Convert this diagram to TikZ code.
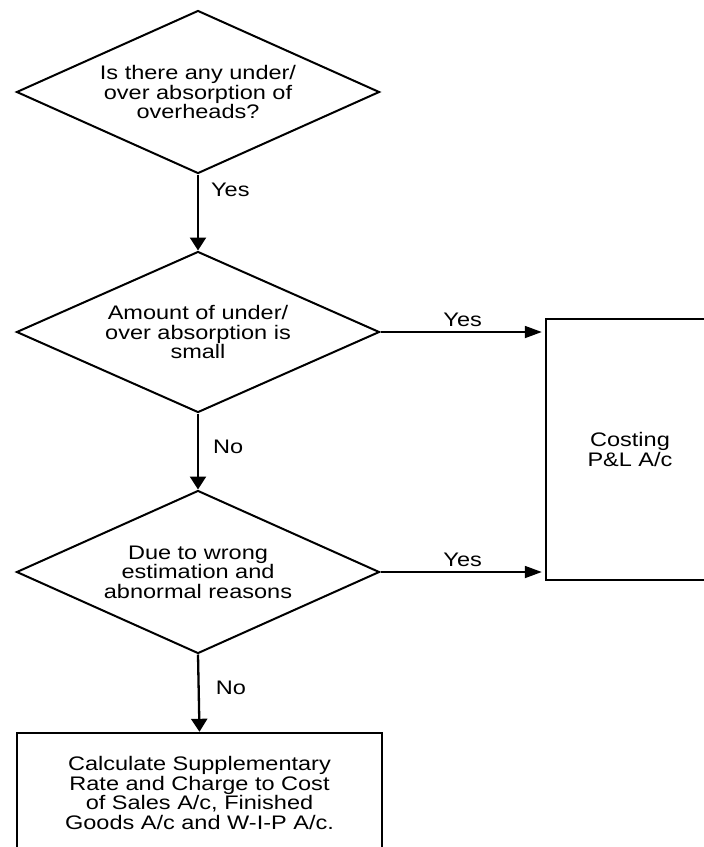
\documentclass[tikz,border=0pt]{standalone}
\usepackage{fontspec}
\setmainfont[FakeStretch=1.2]{Liberation Sans}
\usepackage{tikz}
\usetikzlibrary{arrows.meta,shapes.geometric,positioning,calc}
\tikzset{
  fcdecision/.style={
    diamond, draw=black, fill=white, line width=1pt, aspect=2.2,
    minimum width=181.5pt, minimum height=81.5pt, inner sep=0pt,
    align=center, font=\fontsize{9.8}{9.8}\selectfont
  },
  fcbox/.style={
    rectangle, draw=black, fill=white, line width=1.2pt,
    inner sep=0pt, align=center, font=\fontsize{9.8}{9.8}\selectfont
  },
  fcedge/.style={-{Triangle[length=6.5pt,width=8pt]},line width=1.15pt},
  fcedgeh/.style={-{Triangle[length=8.5pt,width=6pt]},line width=0.9pt,shorten >=1.5pt},
  fclabel/.style={font=\fontsize{9.8}{9.8}\selectfont,inner sep=1pt}
}

\begin{document}
\begin{tikzpicture}[x=0.5pt,y=-0.5pt]
  \useasboundingbox (0,0) rectangle (704,847);
  \clip (0,0) rectangle (704,847);

  % Decisions
  \node[fcdecision] (d1) at (198,92)
    {Is there any under/\\over absorption of\\overheads?};
  \node[fcdecision,minimum height=80.5pt] (d2) at (198,332)
    {Amount of under/\\over absorption is\\small};
  \node[fcdecision] (d3) at (198,572)
    {Due to wrong\\estimation and\\abnormal reasons};

  % Outcomes
  \node[fcbox,minimum width=84pt,minimum height=130.5pt] (pl) at (630,449.5)
    {Costing\\P\&L A/c};
  \node[fcbox,minimum width=182.5pt,minimum height=60pt] (supp) at (199.5,793)
    {Calculate Supplementary\\Rate and Charge to Cost\\of Sales A/c, Finished\\Goods A/c and W-I-P A/c.};

  \draw[fcedge] (d1.south) -- node[fclabel,pos=0.2,anchor=west,xshift=5pt] {Yes} (d2.north);
  \draw[fcedge] (d2.south) -- node[fclabel,pos=0.44,anchor=west,xshift=6pt] {No} (d3.north);
  \draw[fcedge] (d3.south) -- node[fclabel,pos=0.43,anchor=west,xshift=7pt] {No} (supp.north);

  \draw[fcedgeh] (d2.east) -- node[fclabel,above,yshift=1pt] {Yes} (d2.east -| pl.west);
  \draw[fcedgeh] (d3.east) -- node[fclabel,above,yshift=1pt] {Yes} (d3.east -| pl.west);
\end{tikzpicture}
\end{document}
